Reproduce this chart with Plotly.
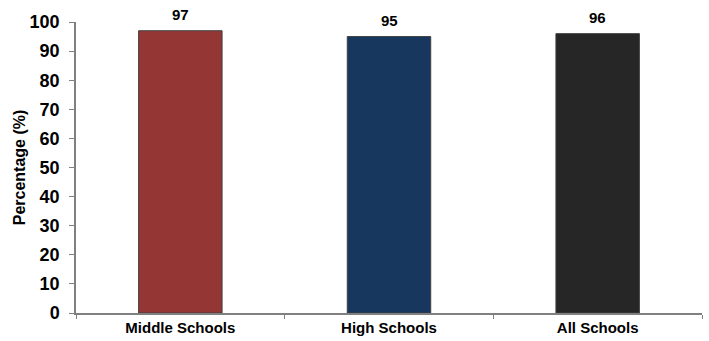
import plotly.graph_objects as go

categories = ["Middle Schools", "High Schools", "All Schools"]
percentages = [97, 95, 96]
bar_colors = ["#943634", "#17375E", "#262626"]
y_ticks = list(range(0, 101, 10))

fig = go.Figure(
    go.Bar(
        x=categories,
        y=percentages,
        marker=dict(color=bar_colors, line=dict(color="#404040", width=1)),
        cliponaxis=False,
        width=0.4,
    )
)

# value labels above each bar
for cat, val in zip(categories, percentages):
    fig.add_annotation(
        x=cat,
        y=val,
        text=f"<b>{val}</b>",
        showarrow=False,
        yanchor="bottom",
        yshift=6,
        font=dict(family="Liberation Sans", size=15, color="black"),
    )

fig.update_layout(
    width=709,
    height=341,
    margin=dict(l=76, r=7, t=22, b=28),
    plot_bgcolor="white",
    paper_bgcolor="white",
    showlegend=False,
    font=dict(family="Liberation Sans", color="black"),
)

fig.update_xaxes(
    type="category",
    automargin=False,
    showline=True,
    linecolor="#808080",
    linewidth=1.5,
    ticks="outside",
    tickson="boundaries",
    ticklen=4,
    tickcolor="#808080",
    tickfont=dict(family="Liberation Sans", size=15, color="black"),
    tickvals=categories,
    ticktext=[f"<b>{c}</b>" for c in categories],
    showgrid=False,
)

fig.update_yaxes(
    range=[0, 100],
    automargin=False,
    showline=True,
    linecolor="#808080",
    linewidth=1.5,
    ticks="outside",
    ticklen=5,
    tickcolor="#808080",
    tickfont=dict(family="Liberation Sans", size=18, color="black"),
    tickvals=y_ticks,
    ticktext=[f"<b>{v}</b>" for v in y_ticks],
    ticklabelstandoff=6,
    showgrid=False,
    zeroline=False,
    title=dict(text="<b>Percentage (%)</b>", font=dict(size=16), standoff=0),
)

fig.write_html("out.html")
